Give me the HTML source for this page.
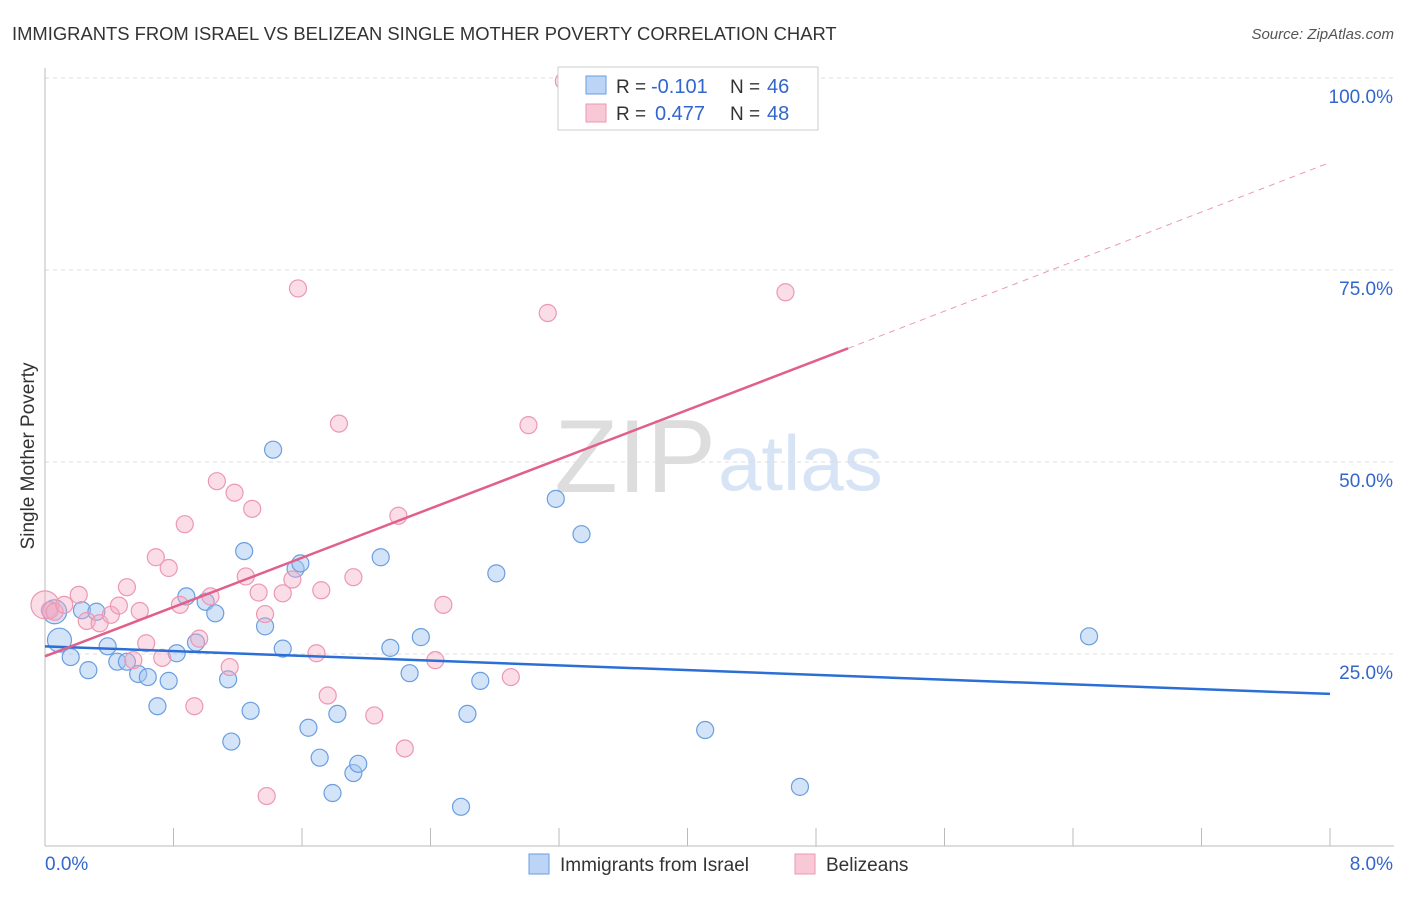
<!DOCTYPE html>
<html><head><meta charset="utf-8"><style>
body{margin:0;background:#fff;font-family:"Liberation Sans",sans-serif}
svg text{font-family:"Liberation Sans",sans-serif}
</style></head><body>
<svg width="1406" height="892">
<text x="12" y="40" font-size="18.4" fill="#333">IMMIGRANTS FROM ISRAEL VS BELIZEAN SINGLE MOTHER POVERTY CORRELATION CHART</text>
<text x="1394" y="39" font-size="15" fill="#555" text-anchor="end" font-style="italic">Source: ZipAtlas.com</text>
<text x="34" y="456" font-size="19" fill="#333" text-anchor="middle" transform="rotate(-90 34 456)">Single Mother Poverty</text>
<text x="716" y="492" font-size="104" fill="#ddd" text-anchor="end" font-family="Liberation Serif">ZIP</text>
<text x="718" y="490" font-size="78" fill="#d6e4f5">atlas</text>
<g id="grid"></g><g id="pts"></g><g id="lines"></g>
<g>
<rect x="558" y="67" width="260" height="63" fill="#fff" stroke="#ccc"/>
<rect x="586" y="76" width="20" height="18" fill="#bcd4f5" stroke="#6a9ee0"/>
<rect x="586" y="104" width="20" height="18" fill="#f9c8d6" stroke="#ec98b2"/>
<text x="616" y="93" font-size="19" fill="#333">R =</text><text x="651" y="93" font-size="20" fill="#3366cc">-0.101</text>
<text x="730" y="93" font-size="19" fill="#333">N =</text><text x="767" y="93" font-size="20" fill="#3366cc">46</text>
<text x="616" y="120" font-size="19" fill="#333">R =</text><text x="655" y="120" font-size="20" fill="#3366cc">0.477</text>
<text x="730" y="120" font-size="19" fill="#333">N =</text><text x="767" y="120" font-size="20" fill="#3366cc">48</text>
</g>
<g>
<rect x="529" y="854" width="20" height="20" fill="#bcd4f5" stroke="#6a9ee0"/>
<text x="560" y="871" font-size="19" fill="#333">Immigrants from Israel</text>
<rect x="795" y="854" width="20" height="20" fill="#f9c8d6" stroke="#ec98b2"/>
<text x="826" y="871" font-size="19" fill="#333">Belizeans</text>
</g>
</svg>
<script>
const yTicks=[0.25,0.5,0.75,1.0];
const yTickLabels=["25.0%","50.0%","75.0%","100.0%"];
const xTickLabels=["0.0%","8.0%"];
const blueX=[0.06,0.09,0.16,0.23,0.27,0.32,0.39,0.45,0.51,0.58,0.64,0.70,0.77,0.82,0.88,0.94,1.00,1.06,1.14,1.16,1.24,1.28,1.37,1.42,1.48,1.56,1.59,1.64,1.71,1.79,1.82,1.92,1.95,2.09,2.15,2.27,2.34,2.59,2.63,2.71,2.81,3.18,3.34,4.11,4.70,6.50];
const blueY=[0.305,0.268,0.246,0.307,0.229,0.305,0.260,0.240,0.240,0.224,0.220,0.182,0.215,0.251,0.325,0.265,0.318,0.303,0.217,0.136,0.384,0.176,0.286,0.516,0.257,0.361,0.368,0.154,0.115,0.069,0.172,0.095,0.107,0.376,0.258,0.225,0.272,0.051,0.172,0.215,0.355,0.452,0.406,0.151,0.077,0.273];
const pinkX=[0.0,0.03,0.06,0.12,0.21,0.26,0.34,0.41,0.46,0.51,0.55,0.59,0.63,0.69,0.73,0.77,0.84,0.87,0.93,0.96,1.03,1.07,1.15,1.18,1.25,1.29,1.33,1.37,1.38,1.48,1.54,1.575,1.69,1.72,1.76,1.83,1.92,2.05,2.20,2.24,2.43,2.48,2.90,3.01,3.13,3.23,4.61];
const pinkY=[0.314,0.307,0.305,0.314,0.327,0.293,0.290,0.301,0.313,0.337,0.242,0.306,0.264,0.376,0.245,0.362,0.314,0.419,0.182,0.270,0.325,0.475,0.233,0.460,0.351,0.439,0.330,0.302,0.065,0.329,0.347,0.726,0.251,0.333,0.196,0.550,0.350,0.170,0.430,0.127,0.242,0.314,0.220,0.548,0.694,0.996,0.721];
const X=v=>45+v/8*1285, Y=v=>846-v*768;
const ns="http://www.w3.org/2000/svg";
function mk(t,a,p){const e=document.createElementNS(ns,t);for(const k in a)e.setAttribute(k,a[k]);p.appendChild(e);return e;}
const g=document.getElementById('grid');
yTicks.forEach((v,i)=>{
 const l=mk('line',{x1:45,x2:1394,y1:Y(v),y2:Y(v),stroke:'#ddd','stroke-dasharray':'4,4'},g);
 
 
 const t=mk('text',{x:1393,y:Y(v)+25,'font-size':19,fill:'#3366cc','text-anchor':'end'},g);
 t.textContent=yTickLabels[i];
 
 
});
mk('line',{x1:45,x2:45,y1:68,y2:846,stroke:'#bbb'},g);
mk('line',{x1:45,x2:1394,y1:846,y2:846,stroke:'#bbb'},g);
for(let i=0;i<=10;i++){mk('line',{x1:X(i*0.8),x2:X(i*0.8),y1:828,y2:846,stroke:'#bbb'},g);}
[[0,45,'start'],[8,1393,'end']].forEach((d,i)=>{const t=mk('text',{x:d[1],y:870,'font-size':19,fill:'#3366cc','text-anchor':d[2]},g);t.textContent=xTickLabels[i];
 
 });
const p=document.getElementById('pts');
blueX.forEach((x,i)=>{const c=mk('circle',{cx:X(x),cy:Y(blueY[i]),r:i<2?12:8.5,fill:'rgba(160,195,240,0.45)',stroke:'#6a9ee0','stroke-width':1.2},p);
 
 });
pinkX.forEach((x,i)=>{const c=mk('circle',{cx:X(x),cy:Y(pinkY[i]),r:i<1?14:8.5,fill:'rgba(245,170,195,0.4)',stroke:'#ec98b2','stroke-width':1.2},p);
 
 });
const L=document.getElementById('lines');
let e=mk('line',{x1:X(0),y1:Y(0.260),x2:X(8),y2:Y(0.198),stroke:'#2b6fd6','stroke-width':2.5},L);


e=mk('line',{x1:X(0),y1:Y(0.247),x2:X(5),y2:Y(0.648),stroke:'#e0608a','stroke-width':2.5},L);


e=mk('line',{x1:X(5),y1:Y(0.648),x2:X(8),y2:Y(0.89),stroke:'#ec98b2','stroke-width':1,'stroke-dasharray':'6,5'},L);


</script>
</body></html>
